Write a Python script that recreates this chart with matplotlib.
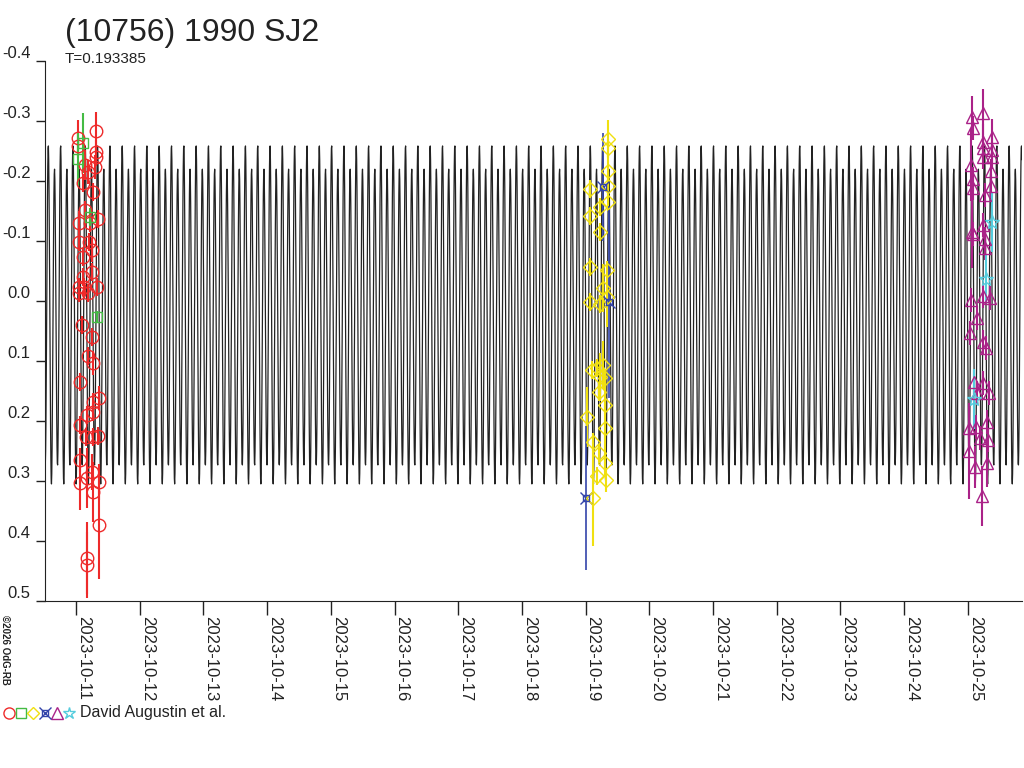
import numpy as np
import matplotlib
matplotlib.use("Agg")
import matplotlib.pyplot as plt
import matplotlib.dates as mdates
from datetime import datetime

plt.rcParams['font.family'] = ['Liberation Sans', 'DejaVu Sans']
plt.rcParams['axes.unicode_minus'] = False

# days after 2023-10-11 00:00 and magnitudes
red_t = [0.314, 0.031, 0.031, 0.314, 0.314, 0.298, 0.141, 0.188, 0.110, 0.267,
         0.141, 0.345, 0.047, 0.220, 0.047, 0.204, 0.251, 0.110, 0.251, 0.110,
         0.047, 0.126, 0.330, 0.188, 0.047, 0.094, 0.251, 0.188, 0.267, 0.063,
         0.361, 0.267, 0.173, 0.267, 0.063, 0.157, 0.267, 0.345, 0.063, 0.251,
         0.063, 0.361, 0.173, 0.267, 0.361, 0.173, 0.173]
red_m = [-0.283, -0.272, -0.258, -0.248, -0.240, -0.223, -0.227, -0.215, -0.197, -0.182,
         -0.152, -0.137, -0.130, -0.130, -0.098, -0.098, -0.085, -0.073, -0.048, -0.040,
         -0.023, -0.023, -0.023, -0.013, -0.013, 0.040, 0.060, 0.092, 0.103, 0.135,
         0.162, 0.168, 0.190, 0.185, 0.207, 0.227, 0.227, 0.225, 0.265, 0.285,
         0.303, 0.302, 0.295, 0.318, 0.373, 0.428, 0.440]
red_e = [0.032, 0.030, 0.020, 0.020, 0.015, 0.020, 0.025, 0.020, 0.015, 0.015,
         0.015, 0.015, 0.020, 0.015, 0.015, 0.015, 0.020, 0.015, 0.015, 0.015,
         0.015, 0.015, 0.015, 0.015, 0.015, 0.015, 0.015, 0.015, 0.020, 0.015,
         0.020, 0.015, 0.015, 0.015, 0.015, 0.015, 0.015, 0.015, 0.020, 0.030,
         0.045, 0.030, 0.050, 0.050, 0.090, 0.060, 0.055]

green_t = [0.110, 0.031, 0.220, 0.330]
green_m = [-0.263, -0.237, -0.140, 0.027]
green_e = [0.050, 0.045, 0.015, 0.010]

yellow_t = [8.352, 8.352, 8.352, 8.352, 8.069, 8.352, 8.226, 8.069, 8.226, 8.069,
            8.336, 8.273, 8.336, 8.069, 8.226, 8.273, 8.100, 8.179, 8.226, 8.305,
            8.210, 8.305, 8.022, 8.305, 8.116, 8.210, 8.305, 8.179, 8.320, 8.116]
yellow_m = [-0.270, -0.255, -0.217, -0.192, -0.187, -0.165, -0.157, -0.142, -0.115, -0.057,
            -0.052, -0.022, -0.007, 0.002, 0.005, 0.107, 0.115, 0.112, 0.127, 0.128,
            0.152, 0.173, 0.193, 0.212, 0.235, 0.253, 0.270, 0.292, 0.298, 0.328]
yellow_e = [0.032, 0.015, 0.030, 0.020, 0.015, 0.015, 0.015, 0.015, 0.015, 0.015,
            0.015, 0.040, 0.050, 0.015, 0.015, 0.040, 0.015, 0.015, 0.040, 0.015,
            0.015, 0.015, 0.050, 0.080, 0.015, 0.015, 0.015, 0.015, 0.020, 0.080]

blue_t = [8.273, 8.367, 8.006]
blue_m = [-0.190, 0.002, 0.328]
blue_e = [0.090, 0.160, 0.120]

magenta_t = [14.066, 14.239, 14.082, 14.239, 14.380, 14.239, 14.380, 14.239, 14.380, 14.050,
             14.364, 14.082, 14.082, 14.364, 14.270, 14.239, 14.066, 14.082, 14.270, 14.270,
             14.050, 14.239, 14.349, 14.144, 14.035, 14.239, 14.286, 14.097, 14.239, 14.144,
             14.333, 14.019, 14.129, 14.301, 14.192, 14.317, 14.019, 14.301, 14.113, 14.223]
magenta_m = [-0.307, -0.313, -0.288, -0.265, -0.273, -0.255, -0.252, -0.240, -0.240, -0.227,
             -0.217, -0.203, -0.188, -0.192, -0.177, -0.127, -0.115, -0.112, -0.103, -0.088,
             -0.002, -0.008, -0.005, 0.028, 0.053, 0.068, 0.078, 0.135, 0.137, 0.153,
             0.153, 0.212, 0.210, 0.202, 0.228, 0.232, 0.250, 0.270, 0.277, 0.325]
magenta_e = [0.035, 0.040, 0.020, 0.030, 0.030, 0.020, 0.020, 0.020, 0.020, 0.060,
             0.020, 0.020, 0.020, 0.020, 0.020, 0.020, 0.060, 0.020, 0.020, 0.020,
             0.020, 0.020, 0.020, 0.020, 0.020, 0.020, 0.020, 0.020, 0.020, 0.020,
             0.020, 0.030, 0.020, 0.020, 0.020, 0.020, 0.080, 0.040, 0.035, 0.050]

cyan_t = [14.380, 14.286, 14.097]
cyan_m = [-0.132, -0.037, 0.163]
cyan_e = [0.050, 0.040, 0.050]

# fitted lightcurve model (double peaked)
period = 0.193385
mag0 = 0.025
c1, s1, c2 = 0.015, 0.02, 0.265

base = mdates.date2num(datetime(2023, 10, 11))

fig = plt.figure(figsize=(10.24, 7.68), dpi=100)
ax = fig.add_axes([45/1024, 1 - 601/768, 977/1024, 540/768])

x0, x1 = -0.487, 14.851
tt = np.arange(x0, x1, period / 40)
ph = 2 * np.pi * tt / period
model = mag0 + c1 * np.cos(ph) + s1 * np.sin(ph) + c2 * np.cos(2 * ph)
ax.plot(base + tt, model, color='#222222', lw=0.9, zorder=1)

series = [
    (red_t, red_m, red_e, '#ee2a2a', 'o', 9),
    (green_t, green_m, green_e, '#44bb44', 's', 7),
    (yellow_t, yellow_m, yellow_e, '#f0e010', 'D', 7),
    (magenta_t, magenta_m, magenta_e, '#aa2288', '^', 8),
    (cyan_t, cyan_m, cyan_e, '#55ccdd', '*', 10),
]
for t, m, e, c, mk, ms in series:
    ax.errorbar(base + np.array(t), m, yerr=e, fmt=mk, ms=ms, mfc='none', mec=c,
                mew=1.0, ecolor=c, elinewidth=1.5, capsize=0, zorder=3)

# blue "currency sign" points: square + cross
ax.errorbar(base + np.array(blue_t), blue_m, yerr=blue_e, fmt='s', ms=5, mfc='none',
            mec='#3344aa', mew=1.0, ecolor='#3344aa', elinewidth=1.2, capsize=0, zorder=3)
ax.plot(base + np.array(blue_t), blue_m, 'x', ms=8, mec='#3344aa', mew=1.0, zorder=3)

ax.set_xlim(base + x0, base + x1)
ax.set_ylim(0.5, -0.4)
ax.set_yticks(np.arange(-0.4, 0.51, 0.1))
ax.yaxis.set_major_formatter(matplotlib.ticker.FuncFormatter(
    lambda v, p: '%.1f' % (round(v, 1) + 0.0)))
ax.xaxis.set_major_locator(mdates.DayLocator())
ax.xaxis.set_major_formatter(mdates.DateFormatter('%Y-%m-%d'))

for s in ['top', 'right']:
    ax.spines[s].set_visible(False)
for s in ['left', 'bottom']:
    ax.spines[s].set_color('#222222')

ax.tick_params(axis='x', length=10, width=1, color='#222222', pad=1,
               labelsize=12, labelcolor='#222222', labelrotation=-90)
ax.tick_params(axis='y', length=6.5, width=1, color='#222222', pad=4,
               labelsize=12, labelcolor='#222222')
for lab in ax.get_xticklabels():
    lab.set_ha('left')
    lab.set_va('top')
for lab in ax.get_yticklabels():
    lab.set_va('bottom')

fig.text(65/1024, 1 - 41/768, '(10756) 1990 SJ2', fontsize=23, color='#222222', va='baseline')
fig.text(65/1024, 1 - 63/768, 'T=0.193385', fontsize=11, color='#222222', va='baseline')
fig.text(5/1024, 1 - 615/768, '\u00a92026 OdG-RB', fontsize=7, fontweight='bold',
         rotation=-90, ha='center', va='top', color='#222222')

# legend row
leg_y = 1 - 713/768
leg = [('o', '#ee2a2a', 9, 8), ('s', '#44bb44', 21, 6.5), ('D', '#f0e010', 33, 6),
       ('s', '#3344aa', 45, 5), ('^', '#aa2288', 57, 8), ('*', '#55ccdd', 69, 9)]
for mk, c, px, ms in leg:
    fig.lines.append(plt.Line2D([px/1024], [leg_y], marker=mk, ms=ms,
                                mfc='none', mec=c, mew=1.0, ls='none',
                                transform=fig.transFigure))
fig.lines.append(plt.Line2D([45/1024], [leg_y], marker='x', ms=8, mec='#3344aa', mew=1.0,
                            ls='none', transform=fig.transFigure))
fig.text(80/1024, leg_y, 'David Augustin et al.', fontsize=11.5, color='#222222', va='center')

fig.savefig('out.png', dpi=100)
